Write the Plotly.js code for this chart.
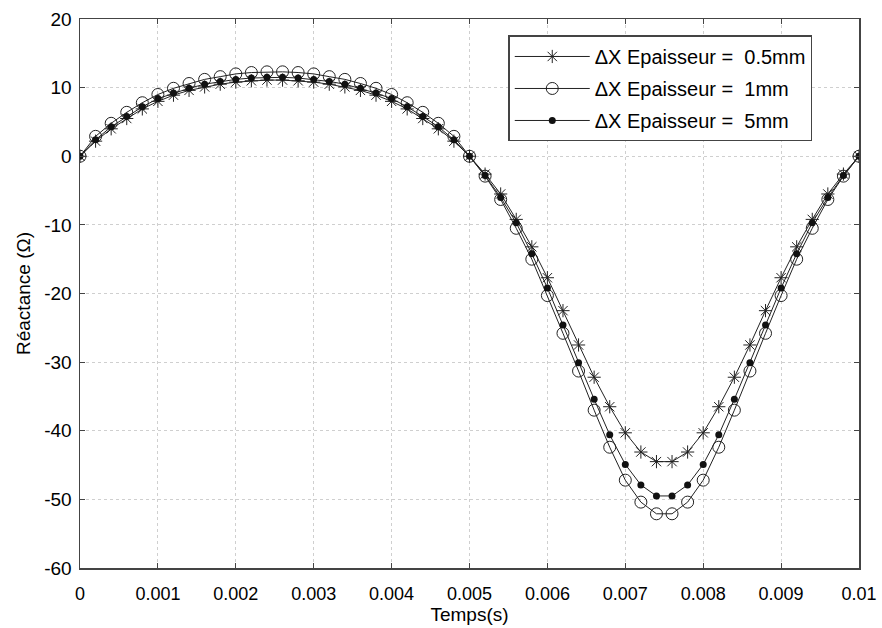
<!DOCTYPE html>
<html>
<head>
<meta charset="utf-8">
<script src="https://cdn.plot.ly/plotly-3.0.1.min.js"></script>
<style>html,body{margin:0;padding:0;background:#fff;}#chart{width:882px;height:628px;}</style>
</head>
<body>
<div id="chart"></div>
<script>
// Time samples (s)
const time = [0,0.0002,0.0004,0.0006,0.0008,0.001,0.0012,0.0014,0.0016,0.0018,0.002,0.0022,0.0024,0.0026,0.0028,0.003,0.0032,0.0034,0.0036,0.0038,0.004,0.0042,0.0044,0.0046,0.0048,0.005,
  0.0052,0.0054,0.0056,0.0058,0.006,0.0062,0.0064,0.0066,0.0068,0.007,0.0072,0.0074,0.0076,0.0078,0.008,0.0082,0.0084,0.0086,0.0088,0.009,0.0092,0.0094,0.0096,0.0098,0.01];

// Reactance (Ohm), epaisseur 0.5 mm
const x05mm = [0,2.2,4.0,5.5,6.9,8.0,8.9,9.6,10.1,10.5,10.8,11.0,11.1,11.1,11.0,10.8,10.5,10.1,9.6,8.9,8.0,6.9,5.5,4.0,2.2,0,
  -2.6,-5.5,-9.2,-13.2,-17.7,-22.5,-27.5,-32.2,-36.5,-40.3,-43.1,-44.5,-44.5,-43.1,-40.3,-36.5,-32.2,-27.5,-22.5,-17.7,-13.2,-9.2,-5.5,-2.6,0];

// Reactance (Ohm), epaisseur 1 mm
const x1mm = [0,2.9,4.8,6.4,7.8,9.0,9.9,10.6,11.2,11.6,12.0,12.2,12.3,12.3,12.2,12.0,11.6,11.2,10.6,9.9,9.0,7.8,6.4,4.8,2.9,0,
  -2.9,-6.3,-10.5,-15.0,-20.3,-25.8,-31.3,-37.0,-42.4,-47.2,-50.4,-52.1,-52.1,-50.4,-47.2,-42.4,-37.0,-31.3,-25.8,-20.3,-15.0,-10.5,-6.3,-2.9,0];

// Reactance (Ohm), epaisseur 5 mm
const x5mm = [0,2.4,4.3,5.8,7.2,8.4,9.2,9.9,10.5,10.9,11.2,11.4,11.5,11.5,11.4,11.2,10.9,10.5,9.9,9.2,8.4,7.2,5.8,4.3,2.4,0,
  -2.8,-6.0,-9.7,-14.2,-19.2,-24.6,-30.1,-35.4,-40.6,-44.9,-47.9,-49.5,-49.5,-47.9,-44.9,-40.6,-35.4,-30.1,-24.6,-19.2,-14.2,-9.7,-6.0,-2.8,0];

const seriesNames = ["\u0394X Epaisseur = \u00a00.5mm", "\u0394X Epaisseur = \u00a01mm", "\u0394X Epaisseur = \u00a05mm"];

const xTickVals = [0,0.001,0.002,0.003,0.004,0.005,0.006,0.007,0.008,0.009,0.01];
const xTickText = ["0","0.001","0.002","0.003","0.004","0.005","0.006","0.007","0.008","0.009","0.01"];
const yTickVals = [-60,-50,-40,-30,-20,-10,0,10,20];
const yTickText = ["-60","-50","-40","-30","-20","-10","0","10","20"];

const lineColor = "#222";
const traces = [
  {x: time, y: x05mm, name: seriesNames[0], legendgroup: "g1", mode: "lines+markers",
   line: {color: lineColor, width: 1},
   marker: {symbol: "asterisk-open", size: 11, color: lineColor, line: {color: lineColor, width: 1}}},
  {x: time, y: x1mm, name: seriesNames[1], legendgroup: "g2", mode: "lines+markers",
   line: {color: lineColor, width: 1},
   marker: {symbol: "circle-open", size: 12, color: lineColor, line: {color: lineColor, width: 1}}},
  {x: time, y: x5mm, name: seriesNames[2], legendgroup: "g3", mode: "lines+markers",
   line: {color: lineColor, width: 1},
   marker: {symbol: "circle", size: 7, color: "#111", line: {width: 0}}}
];

const fam = "Liberation Sans, Arial, sans-serif";
const xTickFont = {family: fam, size: 18, color: "#000"};
const yTickFont = {family: fam, size: 19, color: "#000"};
const titleFont = {family: fam, size: 19, color: "#000"};
const legendFont = {family: fam, size: 20, color: "#000"};
const axisCommon = {
  showline: true, mirror: "ticks", linecolor: "#444", linewidth: 1.5,
  ticks: "inside", ticklen: 5, tickcolor: "#444",
  showgrid: true, gridcolor: "#cfcfcf", griddash: "dot", gridwidth: 1,
  zeroline: false
};

const layout = {
  width: 882, height: 628,
  margin: {l: 80, r: 23, t: 19, b: 60},
  paper_bgcolor: "#fff", plot_bgcolor: "#fff",
  font: titleFont,
  showlegend: true,
  legend: {x: 0.94, xanchor: "right", y: 0.97, yanchor: "top",
           bgcolor: "#fff", bordercolor: "#444", borderwidth: 1.5,
           font: legendFont, itemwidth: 75, tracegroupgap: 3},
  xaxis: Object.assign({}, axisCommon, {
    range: [0, 0.01], tickvals: xTickVals, ticktext: xTickText,
    tickfont: xTickFont, ticklabelstandoff: 9,
    title: {text: "Temps(s)", font: titleFont, standoff: 0}
  }),
  yaxis: Object.assign({}, axisCommon, {
    range: [-60, 20], tickvals: yTickVals, ticktext: yTickText,
    tickfont: yTickFont, ticklabelstandoff: 3,
    title: {text: "Réactance (\u03A9)", font: titleFont, standoff: 8}
  })
};

Plotly.newPlot("chart", traces, layout, {displayModeBar: false, staticPlot: true});
</script>
</body>
</html>
